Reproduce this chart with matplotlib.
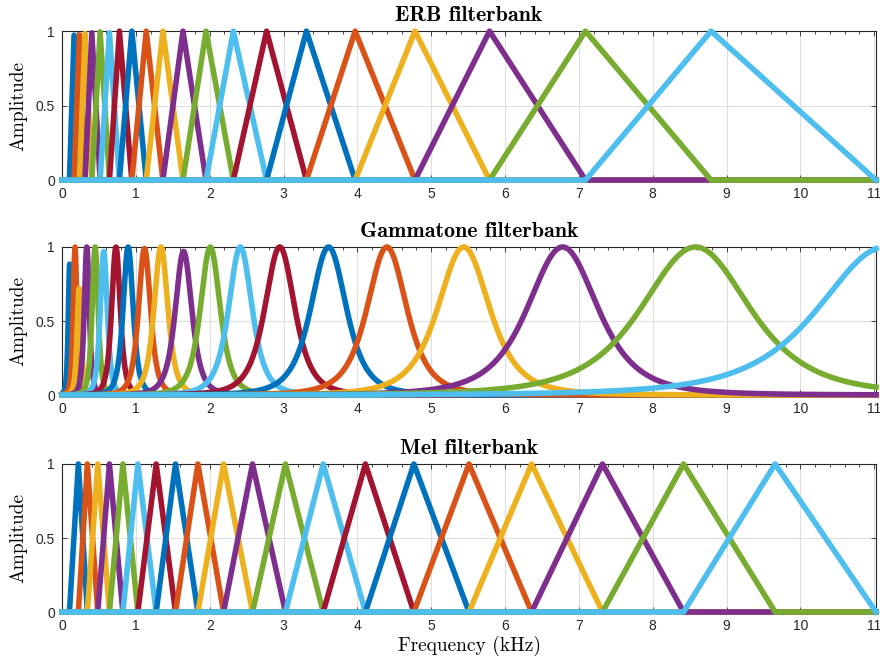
import numpy as np
import matplotlib
matplotlib.use('Agg')
import matplotlib.pyplot as plt
from matplotlib.ticker import MultipleLocator

# MATLAB default colour order
colors = ['#0072BD', '#D95319', '#EDB120', '#7E2F8E', '#77AC30', '#4DBEEE', '#A2142F']

# ERB filterbank: triangle edges (kHz), filter k runs edges[k] -> edges[k+1] -> edges[k+2]
erb_edges = [0.10, 0.163, 0.235, 0.312, 0.403, 0.516, 0.642, 0.777, 0.945, 1.14, 1.366,
             1.638, 1.95, 2.32, 2.77, 3.31, 3.97, 4.78, 5.79, 7.09, 8.79, 11.025]
erb_peaks = [0.973, 0.975, 0.984, 0.989, 0.995, 0.989, 1, 1, 1, 1,
             1, 1, 1, 1, 1, 1, 1, 1, 1, 1]

# Gammatone filterbank: centre (kHz), bandwidth (kHz), peak gain
gt_centers = [0.104, 0.176, 0.231, 0.335, 0.448, 0.565, 0.73, 0.895, 1.117, 1.34,
              1.646, 2.008, 2.415, 2.949, 3.61, 4.40, 5.44, 6.78, 8.58, 11.15]
gt_bw = [0.036, 0.045, 0.051, 0.062, 0.074, 0.087, 0.106, 0.124, 0.148, 0.172,
         0.206, 0.245, 0.29, 0.37, 0.44, 0.49, 0.64, 0.87, 1.34, 1.65]
gt_gain = [0.886, 1.0, 0.72, 1.0, 1.0, 0.97, 1.0, 1.0, 0.99, 1.0,
           0.97, 1.0, 1.0, 1.0, 1.0, 1.0, 1.0, 1.0, 1.0, 1.0]

# Mel filterbank: triangle edges (kHz)
mel_edges = [0.10, 0.221, 0.343, 0.484, 0.642, 0.824, 1.027, 1.275, 1.537, 1.84, 2.188,
             2.58, 3.026, 3.537, 4.109, 4.765, 5.512, 6.36, 7.32, 8.418, 9.658, 11.025]

fmax = 11.025
xticks = list(range(12))
yticks = [0, 0.5, 1]
ytick_labels = ['0', '0.5', '1']

fig = plt.figure(figsize=(8.8, 6.62), dpi=100)
axes = [fig.add_axes([0.0705, 0.728, 0.925, 0.225]),
        fig.add_axes([0.0705, 0.4033, 0.925, 0.2236]),
        fig.add_axes([0.0705, 0.0755, 0.925, 0.2236])]

lw = 4
f = np.linspace(0, fmax, 3000)


def triangles(ax, edges, peaks=None):
    for k in range(len(edges) - 2):
        lo, c, hi = edges[k], edges[k + 1], edges[k + 2]
        pk = 1 if peaks is None else peaks[k]
        ax.plot([0, lo, c, hi, fmax], [0, 0, pk, 0, 0], color=colors[k % 7], lw=lw,
                solid_joinstyle='round', clip_on=False, zorder=3)


triangles(axes[0], erb_edges, erb_peaks)

for k in range(len(gt_centers)):
    amp = gt_gain[k] * (1 + ((f - gt_centers[k]) / gt_bw[k]) ** 2) ** -2
    axes[1].plot(f, amp, color=colors[k % 7], lw=lw, clip_on=False, zorder=3)

triangles(axes[2], mel_edges)

titles = ['ERB filterbank', 'Gammatone filterbank', 'Mel filterbank']
for ax, t in zip(axes, titles):
    ax.set_xlim(0, fmax)
    ax.set_ylim(0, 1)
    ax.set_xticks(xticks)
    ax.set_xticklabels([str(v) for v in xticks], fontfamily='Liberation Sans')
    ax.set_yticks(yticks)
    ax.set_yticklabels(ytick_labels, fontfamily='Liberation Sans')
    ax.xaxis.set_minor_locator(MultipleLocator(0.2))
    ax.tick_params(which='both', direction='in', top=True, right=True,
                   colors='#262626', labelsize=10, width=0.6)
    ax.tick_params(which='major', length=3.6, pad=5)
    ax.tick_params(which='minor', length=2.2)
    ax.tick_params(axis='y', which='minor', left=False, right=False)
    ax.grid(True, which='major', color='#dedede', lw=0.8)
    ax.set_axisbelow(True)
    for s in ax.spines.values():
        s.set_color('#262626')
        s.set_linewidth(0.8)
    ax.set_title(t, fontfamily='cmb10', fontsize=15.8, pad=7)
    ax.set_ylabel('Amplitude', fontfamily='cmr10', fontsize=14, labelpad=6)

axes[2].set_xlabel('Frequency (kHz)', fontfamily='cmr10', fontsize=14, labelpad=2)

fig.savefig('out.png', dpi=100)
